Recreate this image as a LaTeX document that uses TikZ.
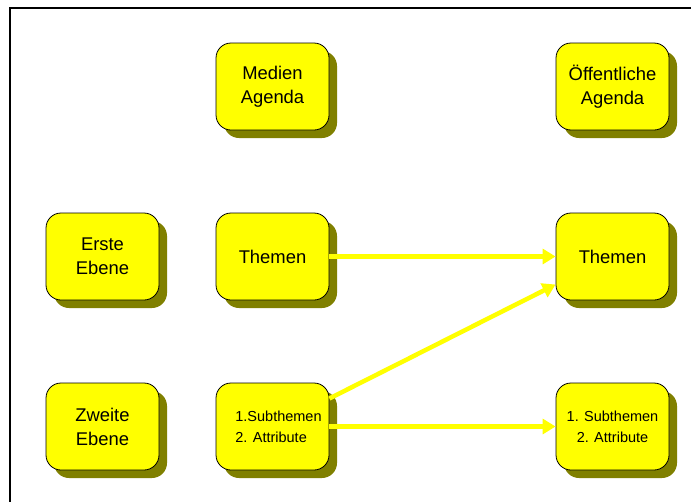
\documentclass[tikz,border=0pt]{standalone}
\usepackage{fontspec}
\setmainfont{Liberation Sans}
\usetikzlibrary{shadows,arrows.meta}
\definecolor{boxyellow}{RGB}{255,255,0}
\definecolor{boxshadow}{RGB}{128,128,0}
\tikzset{
  agendabox/.style={
    draw=black, line width=0.8pt, fill=boxyellow,
    rounded corners=15pt, minimum width=113pt, minimum height=87pt,
    align=center, inner sep=2pt,
    drop shadow={shadow xshift=8pt, shadow yshift=-8pt, fill=boxshadow, opacity=1}
  },
  bigtext/.style={font=\fontsize{18.4}{24}\selectfont},
  smalltext/.style={font=\fontsize{14.5}{21}\selectfont},
  flow/.style={draw=boxyellow, line width=4.5pt,
    -{Triangle[length=13pt,width=15pt,fill=boxyellow]}}
}
\begin{document}
\begin{tikzpicture}[x=1pt,y=-1pt]
  \useasboundingbox (0,0) rectangle (691,501);
  % outer frame, running off the right and bottom edges
  \draw[line width=2.6pt] (10,510) -- (10,8) -- (700,8);

  % column heads
  \node[agendabox,bigtext] (medien) at (272.5,86.5) {Medien\\Agenda};
  \node[agendabox,bigtext] (oeff) at (612.5,86.5) {Öffentliche\\Agenda};

  % row heads
  \node[agendabox,bigtext] (erste) at (102.5,256.5) {Erste\\Ebene};
  \node[agendabox,bigtext] (zweite) at (102.5,426.5) {Zweite\\Ebene};

  % first level
  \node[agendabox,bigtext] (themenM) at (272.5,256.5) {Themen};
  \node[agendabox,bigtext] (themenO) at (612.5,256.5) {Themen};

  % second level
  \node[agendabox,smalltext,align=left] (subM) at (272.5,426.5)
    {\hspace*{12pt}1.Subthemen\\\hspace*{12pt}2. Attribute};
  \node[agendabox,smalltext] (subO) at (612.5,426.5) {1. Subthemen\\2. Attribute};

  % transfer arrows
  \draw[flow] (themenM.east) -- (themenO.west);
  \draw[flow] ([yshift=28pt]subM.east) -- ([yshift=-28pt]themenO.west);
  \draw[flow] (subM.east) -- (subO.west);
\end{tikzpicture}
\end{document}
